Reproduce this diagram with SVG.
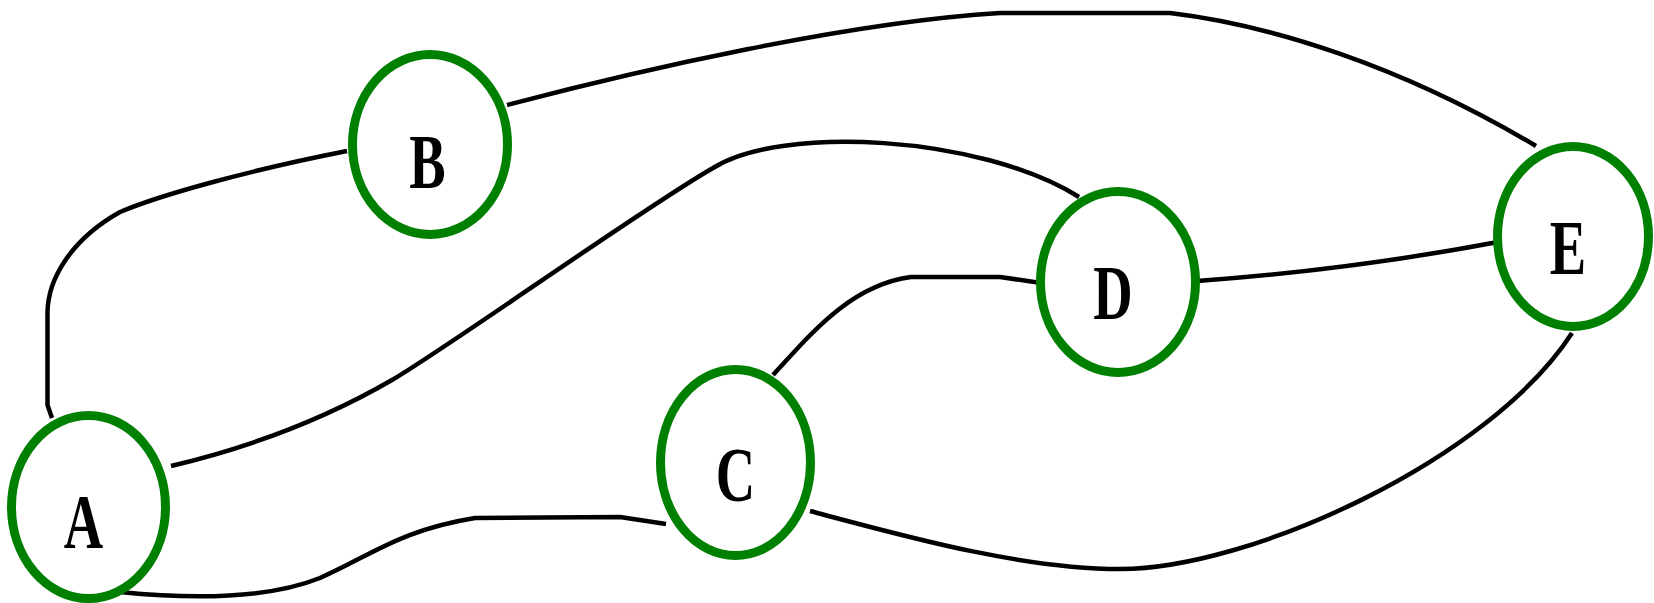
<svg xmlns="http://www.w3.org/2000/svg" width="1654" height="603" viewBox="0 0 1654 603">
<style>
.edge{fill:none;stroke:#000;stroke-width:4.5;stroke-linejoin:round}
.node{fill:#fff;stroke:#008000;stroke-width:9}
.lbl{font-family:"Liberation Serif","Times New Roman",serif;font-weight:bold;font-size:78px;fill:#000;text-anchor:middle}
</style>
<rect width="1654" height="603" fill="#fff"/>
<g id="connectors">
<path id="e-AB" class="edge" d="M52,418 L47.5,405 L47.5,312 C48,280 70,240 120,212 C160,195 250,170 347,151"/>
<path id="e-BE" class="edge" d="M507,105 C640,70 850,22 1000,13 L1170,13 C1270,25 1400,65 1536,146"/>
<path id="e-AD" class="edge" d="M171,466 C260,445 335,413 392,380 C450,346 640,210 713,168 C780,125 980,135 1079,197"/>
<path id="e-AC" class="edge" d="M120,592 C200,600 270,598 320,578 C370,556 400,530 475,518 L620,517 L666,524"/>
<path id="e-CD" class="edge" d="M773,375 C810,335 850,285 911,277 L1000,277 L1041,283"/>
<path id="e-DE" class="edge" d="M1197,281 Q1350,270 1498,242"/>
<path id="e-CE" class="edge" d="M810,511 C900,535 1020,569 1120,569 C1250,569 1490,460 1572,333"/>
</g>
<g id="node-A">
<ellipse class="node" cx="88.5" cy="507" rx="77" ry="91.5"/>
<text class="lbl" transform="translate(83.5,548) scale(0.7,1)">A</text>
</g>
<g id="node-B">
<ellipse class="node" cx="430" cy="144.5" rx="77.5" ry="90"/>
<text class="lbl" transform="translate(427.5,188) scale(0.7,1)">B</text>
</g>
<g id="node-C">
<ellipse class="node" cx="735.5" cy="462.5" rx="75" ry="93"/>
<text class="lbl" transform="translate(735.5,501) scale(0.7,1)">C</text>
</g>
<g id="node-D">
<ellipse class="node" cx="1118" cy="282" rx="77.5" ry="90.5"/>
<text class="lbl" transform="translate(1113,319) scale(0.7,1)">D</text>
</g>
<g id="node-E">
<ellipse class="node" cx="1573" cy="236.5" rx="75.5" ry="90"/>
<text class="lbl" transform="translate(1568,274) scale(0.7,1)">E</text>
</g>
</svg>
